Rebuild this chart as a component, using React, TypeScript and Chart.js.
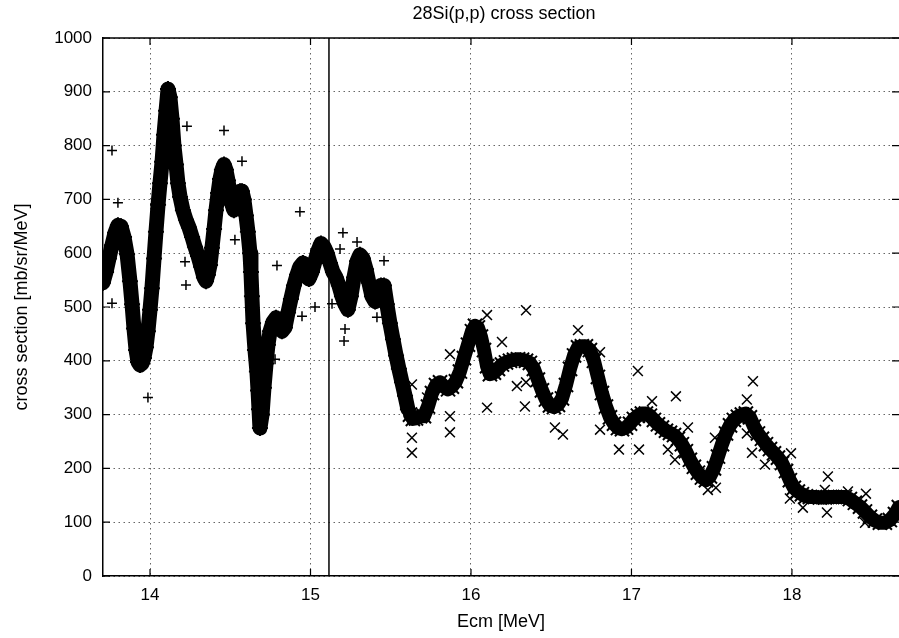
import React, { useEffect, useRef } from "react";
import { Chart, registerables } from "chart.js";

Chart.register(...registerables);

const TITLE = "28Si(p,p) cross section";
const X_TITLE = "Ecm [MeV]";
const Y_TITLE = "cross section [mb/sr/MeV]";

const xTicks = [14, 15, 16, 17, 18];
const yTicks = [0, 100, 200, 300, 400, 500, 600, 700, 800, 900, 1000];
const xRange = [13.707, 18.667];
const yRange = [0, 1000];
const markerLineX = 15.115;

// "+" series (dense band)
const plusBandX = [
  13.707, 13.726, 13.744, 13.763, 13.782, 13.8, 13.819, 13.838, 13.857, 13.875,
  13.888, 13.9, 13.913, 13.925, 13.938, 13.95, 13.962, 13.975, 13.987, 14.0,
  14.012, 14.025, 14.037, 14.05, 14.062, 14.075, 14.087, 14.1, 14.112, 14.124,
  14.137, 14.149, 14.162, 14.174, 14.187, 14.205, 14.224, 14.243, 14.262, 14.28,
  14.299, 14.318, 14.336, 14.349, 14.361, 14.374, 14.386, 14.399, 14.411, 14.424,
  14.436, 14.448, 14.461, 14.473, 14.486, 14.498, 14.511, 14.523, 14.536, 14.548,
  14.561, 14.573, 14.585, 14.598, 14.61, 14.623, 14.629, 14.635, 14.642, 14.654,
  14.666, 14.673, 14.679, 14.685, 14.698, 14.71, 14.723, 14.735, 14.748, 14.766,
  14.785, 14.804, 14.822, 14.841, 14.86, 14.878, 14.897, 14.916, 14.934, 14.953,
  14.972, 14.99, 15.009, 15.028, 15.047, 15.065, 15.084, 15.103, 15.121, 15.14,
  15.159, 15.177, 15.196, 15.215, 15.233, 15.252, 15.271, 15.29, 15.308, 15.327,
  15.346, 15.364, 15.383, 15.402, 15.42, 15.439, 15.458, 15.476, 15.495, 15.514,
  15.533, 15.551, 15.57, 15.589, 15.607,
];
const plusBandY = [
  545, 565, 590, 615, 638, 652, 650, 630, 598, 548,
  505, 460, 420, 398, 392, 395, 405, 425, 455, 495,
  535, 590, 640, 690, 730, 770, 820, 865, 905, 890,
  850, 800, 765, 730, 705, 680, 662, 648, 630, 612,
  595, 575, 555, 548, 560, 578, 610, 645, 680, 712,
  738, 755, 765, 755, 735, 710, 690, 680, 692, 708,
  715, 715, 700, 670, 640, 600, 565, 520, 470, 420,
  380, 345, 310, 275, 300, 350, 395, 430, 455, 472,
  480, 468, 455, 462, 490, 515, 540, 560, 575, 582,
  568, 552, 565, 585, 605, 618, 612, 600, 582, 565,
  555, 540, 520, 505, 495, 520, 555, 585, 597, 590,
  570, 545, 520, 510, 525, 540, 540, 505, 470, 440,
  410, 385, 360, 335, 310,
];

// "x" series (dense band)
const crossBandX = [
  15.62, 15.638, 15.657, 15.682, 15.707, 15.732, 15.757, 15.782, 15.807, 15.832,
  15.857, 15.881, 15.906, 15.931, 15.956, 15.981, 16.006, 16.025, 16.043, 16.062,
  16.081, 16.1, 16.118, 16.143, 16.168, 16.193, 16.218, 16.243, 16.268, 16.293,
  16.318, 16.343, 16.367, 16.392, 16.417, 16.442, 16.467, 16.492, 16.517, 16.542,
  16.567, 16.592, 16.617, 16.642, 16.667, 16.691, 16.716, 16.741, 16.766, 16.791,
  16.816, 16.841, 16.866, 16.891, 16.916, 16.941, 16.966, 16.991, 17.015, 17.04,
  17.065, 17.09, 17.115, 17.14, 17.165, 17.19, 17.215, 17.24, 17.265, 17.289,
  17.314, 17.339, 17.364, 17.389, 17.414, 17.439, 17.464, 17.489, 17.514, 17.539,
  17.564, 17.589, 17.614, 17.638, 17.663, 17.688, 17.713, 17.738, 17.763, 17.788,
  17.813, 17.838, 17.863, 17.888, 17.913, 17.938, 17.963, 17.987, 18.012, 18.037,
  18.062, 18.087, 18.112, 18.143, 18.174, 18.205, 18.237, 18.268, 18.299, 18.33,
  18.361, 18.392, 18.424, 18.455, 18.486, 18.517, 18.548, 18.579, 18.61, 18.642,
  18.666,
];
const crossBandY = [
  300, 292, 293, 297, 297, 315, 340, 355, 360, 352,
  347, 352, 362, 380, 405, 430, 455, 465, 462, 445,
  420, 390, 375, 378, 385, 393, 397, 400, 402, 403,
  402, 400, 396, 385, 365, 345, 328, 317, 314, 318,
  330, 355, 385, 410, 425, 427, 427, 420, 400, 370,
  340, 315, 295, 283, 275, 273, 276, 283, 292, 298,
  302, 302, 298, 290, 282, 276, 270, 266, 262, 255,
  245, 232, 216, 203, 192, 183, 178, 185, 200, 222,
  245, 265, 280, 290, 296, 300, 302, 295, 278, 265,
  255, 245, 236, 228, 220, 210, 195, 178, 164, 157,
  152, 148, 147, 147, 146, 146, 147, 147, 147, 147,
  143, 136, 129, 120, 110, 103, 99, 99, 104, 115,
  128,
];

// scattered "+" points
const plusOutX = [
  13.763, 13.8, 13.763, 13.987, 14.23, 14.461, 14.573, 14.218, 14.224, 14.529,
  14.934, 14.791, 15.202, 15.184, 15.29, 15.458, 14.947, 15.028, 15.134, 15.215,
  15.209, 14.779, 15.414,
];
const plusOutY = [
  791, 694, 507, 332, 836, 828, 771, 584, 541, 625,
  677, 577, 638, 608, 621, 586, 483, 500, 506, 459,
  437, 403, 481,
];

// scattered "x" points
const crossOutX = [
  15.632, 15.632, 15.632, 15.726, 15.869, 15.869, 15.869, 16.1, 16.343, 16.193,
  16.1, 16.336, 16.286, 16.343, 16.523, 16.573, 16.667, 16.804, 16.804, 17.04,
  17.128, 17.277, 16.922, 17.047, 17.271, 17.227, 17.52, 17.476, 17.526, 17.352,
  17.757, 17.719, 17.719, 17.751, 17.832, 17.994, 17.987, 18.068, 18.224, 18.205,
  18.218, 18.349, 18.461, 18.455,
];
const crossOutY = [
  356, 257, 229, 332, 412, 297, 267, 485, 494, 435,
  313, 315, 353, 360, 276, 263, 457, 416, 272, 381,
  325, 334, 235, 235, 216, 235, 257, 160, 164, 276,
  362, 328, 265, 229, 207, 228, 144, 127, 185, 160,
  118, 157, 153, 99,
];

const FONT = '"Liberation Sans", Arial, Helvetica, sans-serif';

const zip = (xs: number[], ys: number[]) => xs.map((x, i) => ({ x, y: ys[i] }));

const framePlugin = {
  id: "gnuplotFrame",
  afterDatasetsDraw(chart: any) {
    const { ctx, chartArea, scales } = chart;
    const { left, right, top, bottom } = chartArea;
    const xs = scales.x;
    const ys = scales.y;
    ctx.save();
    ctx.strokeStyle = "#000";
    ctx.lineWidth = 1.5;
    ctx.beginPath();
    ctx.moveTo(left, top);
    ctx.lineTo(right, top);
    ctx.stroke();
    ctx.lineWidth = 1.2;
    ctx.beginPath();
    for (const v of xTicks) {
      const px = xs.getPixelForValue(v);
      ctx.moveTo(px, bottom);
      ctx.lineTo(px, bottom - 7);
      ctx.moveTo(px, top);
      ctx.lineTo(px, top + 7);
    }
    for (const v of yTicks) {
      const py = ys.getPixelForValue(v);
      ctx.moveTo(left, py);
      ctx.lineTo(left + 7, py);
      ctx.moveTo(right, py);
      ctx.lineTo(right - 7, py);
    }
    ctx.stroke();
    ctx.fillStyle = "#000";
    ctx.font = `18px ${FONT}`;
    ctx.textAlign = "center";
    ctx.textBaseline = "middle";
    ctx.fillText(TITLE, 504, 14);
    ctx.restore();
  },
};

export default function App() {
  const ref = useRef<HTMLCanvasElement | null>(null);

  useEffect(() => {
    if (!ref.current) return;
    const chart = new Chart(ref.current, {
      type: "scatter",
      data: {
        datasets: [
          {
            data: [
              { x: markerLineX, y: yRange[0] },
              { x: markerLineX, y: yRange[1] },
            ],
            showLine: true,
            borderColor: "#000",
            borderWidth: 1.5,
            pointRadius: 0,
            order: 10,
          },
          {
            data: zip(plusBandX, plusBandY),
            showLine: true,
            borderColor: "#000",
            borderWidth: 15,
            borderJoinStyle: "round",
            borderCapStyle: "round",
            pointStyle: "cross",
            pointRadius: 8,
            pointBorderWidth: 2,
            pointBorderColor: "#000",
            pointBackgroundColor: "#000",
            order: 2,
          },
          {
            data: zip(crossBandX, crossBandY),
            showLine: true,
            borderColor: "#000",
            borderWidth: 14,
            borderJoinStyle: "round",
            borderCapStyle: "round",
            pointStyle: "crossRot",
            pointRadius: 10,
            pointBorderWidth: 2,
            pointBorderColor: "#000",
            pointBackgroundColor: "#000",
            order: 2,
          },
          {
            data: zip(plusOutX, plusOutY),
            pointStyle: "cross",
            pointRadius: 5,
            pointBorderWidth: 1.5,
            pointBorderColor: "#000",
            pointBackgroundColor: "#000",
            order: 1,
          },
          {
            data: zip(crossOutX, crossOutY),
            pointStyle: "crossRot",
            pointRadius: 7,
            pointBorderWidth: 1.5,
            pointBorderColor: "#000",
            pointBackgroundColor: "#000",
            order: 1,
          },
        ],
      },
      options: {
        responsive: false,
        animation: false,
        events: [],
        layout: { autoPadding: false, padding: { top: 38, left: 0, right: 0, bottom: 0 } },
        plugins: {
          legend: { display: false },
          tooltip: { enabled: false },
          title: { display: false },
        },
        scales: {
          x: {
            type: "linear",
            min: xRange[0],
            max: xRange[1],
            afterBuildTicks: (s: any) => {
              s.ticks = xTicks.map((v) => ({ value: v }));
            },
            afterFit: (s: any) => {
              s.height = 62;
              s.paddingLeft = 0;
              s.paddingRight = 0;
            },
            ticks: {
              color: "#000",
              font: { family: FONT, size: 17 },
              padding: 9,
              maxRotation: 0,
              callback: (v: any) => String(v),
            },
            grid: { color: "#666", lineWidth: 1, drawTicks: false },
            border: { display: true, color: "#000", width: 1.5, dash: [1.5, 3.5] },
            title: {
              display: true,
              text: X_TITLE,
              color: "#000",
              font: { family: FONT, size: 18 },
              padding: { top: 0, bottom: 5 },
            },
          },
          y: {
            type: "linear",
            min: yRange[0],
            max: yRange[1],
            afterBuildTicks: (s: any) => {
              s.ticks = yTicks.map((v) => ({ value: v }));
            },
            afterFit: (s: any) => {
              s.width = 103;
              s.paddingTop = 0;
              s.paddingBottom = 0;
            },
            ticks: {
              color: "#000",
              font: { family: FONT, size: 17 },
              padding: 11,
              callback: (v: any) => String(v),
            },
            grid: { color: "#666", lineWidth: 1, drawTicks: false },
            border: { display: true, color: "#000", width: 1.5, dash: [1.5, 3.5] },
            title: {
              display: true,
              text: Y_TITLE,
              color: "#000",
              font: { family: FONT, size: 18 },
              padding: { top: 11, bottom: 0 },
            },
          },
        },
      },
      plugins: [framePlugin],
    } as any);
    return () => chart.destroy();
  }, []);

  return (
    <div style={{ position: "absolute", left: 0, top: 0, width: 899, height: 638, background: "#fff" }}>
      <canvas ref={ref} width={899} height={638} style={{ width: 899, height: 638, display: "block" }} />
    </div>
  );
}
